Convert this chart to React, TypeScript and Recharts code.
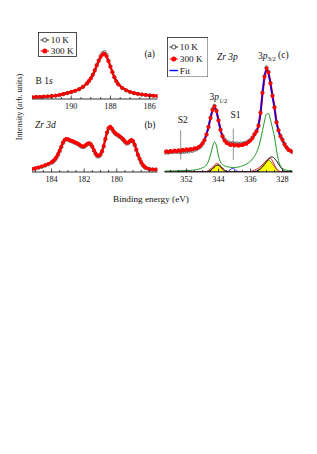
import React from 'react';
import { ComposedChart, Line, Area, XAxis, YAxis, ReferenceLine, Legend } from 'recharts';

const SERIF = '"Liberation Serif", "Times New Roman", serif';

// ---------- panel (a): B 1s ----------
const b1sEnergy = [192.0, 191.8, 191.6, 191.4, 191.2, 191.0, 190.8, 190.6, 190.4, 190.2, 190.0, 189.8, 189.6, 189.4, 189.2, 189.1, 189.0, 188.9, 188.8, 188.7, 188.6, 188.5, 188.4, 188.3, 188.2, 188.1, 188.0, 187.9, 187.8, 187.7, 187.6, 187.4, 187.2, 187.0, 186.8, 186.6, 186.4, 186.2, 186.0, 185.8, 185.6];
const b1s300K = [1.8, 2.0, 2.2, 2.4, 2.7, 3.0, 3.4, 4.1, 5.0, 6.0, 7.0, 8.3, 9.8, 12.3, 15.6, 18.0, 20.7, 24.2, 28.5, 33.5, 38.0, 42.0, 44.5, 45.3, 42.8, 37.8, 32.3, 26.8, 21.8, 17.8, 14.8, 11.2, 8.8, 7.2, 6.0, 5.2, 4.6, 4.1, 3.7, 3.3, 3.0];
const b1s10K = [1.5, 1.9, 2.0, 2.3, 2.5, 2.9, 3.2, 3.9, 4.8, 5.8, 6.8, 8.0, 9.6, 12.0, 15.4, 17.8, 20.6, 24.3, 28.8, 34.0, 38.8, 43.2, 45.9, 46.8, 44.0, 38.5, 32.6, 26.9, 21.7, 17.6, 14.5, 10.9, 8.5, 6.9, 5.8, 5.0, 4.4, 3.9, 3.5, 3.1, 2.8];
const b1sTicks = [186, 186.5, 187, 187.5, 188, 188.5, 189, 189.5, 190, 190.5, 191, 191.5];
const b1sTickLabels = [186, 188, 190];

// ---------- panel (b): Zr 3d ----------
const zr3dEnergy = [185.2, 185.0, 184.8, 184.6, 184.4, 184.2, 184.0, 183.9, 183.8, 183.7, 183.6, 183.5, 183.4, 183.3, 183.2, 183.1, 183.0, 182.9, 182.8, 182.7, 182.6, 182.5, 182.4, 182.3, 182.2, 182.1, 182.0, 181.9, 181.8, 181.7, 181.6, 181.5, 181.4, 181.3, 181.2, 181.1, 181.0, 180.9, 180.8, 180.7, 180.6, 180.5, 180.4, 180.3, 180.2, 180.1, 180.0, 179.9, 179.8, 179.7, 179.6, 179.5, 179.4, 179.3, 179.2, 179.1, 179.0, 178.9, 178.8, 178.7, 178.6, 178.5, 178.4, 178.3, 178.2, 178.0, 177.8, 177.6];
const zr3d300K = [2.0, 2.8, 3.6, 4.6, 5.8, 7.2, 8.8, 10.0, 11.8, 14.0, 17.0, 20.5, 24.5, 28.5, 31.0, 32.0, 31.8, 31.0, 30.3, 29.8, 29.0, 28.3, 27.6, 26.6, 25.4, 24.6, 24.8, 26.0, 27.3, 27.8, 27.0, 24.5, 21.0, 17.8, 15.6, 15.3, 16.8, 20.0, 25.0, 32.0, 38.5, 43.0, 44.3, 42.5, 40.0, 38.0, 36.8, 35.8, 34.6, 33.3, 31.8, 29.8, 28.2, 28.5, 30.0, 31.0, 30.0, 26.5, 21.5, 16.5, 12.5, 9.0, 6.3, 4.5, 3.2, 2.0, 1.6, 1.5];
const zr3d10K = [1.6, 2.4, 3.2, 4.1, 5.3, 6.6, 8.2, 9.4, 11.0, 13.2, 16.0, 19.5, 23.6, 27.8, 30.6, 31.8, 31.5, 30.6, 29.8, 29.4, 28.6, 27.8, 27.0, 26.0, 24.8, 24.0, 24.2, 25.5, 26.8, 27.4, 26.6, 24.0, 20.2, 16.9, 14.8, 14.6, 16.0, 19.2, 24.4, 31.5, 38.2, 42.8, 44.0, 42.0, 39.4, 37.4, 36.2, 35.2, 34.0, 32.6, 31.0, 29.0, 27.4, 27.8, 29.4, 30.4, 29.2, 25.6, 20.6, 15.6, 11.6, 8.2, 5.6, 3.9, 2.8, 1.7, 1.4, 1.3];
const zr3dTicks = [178, 178.5, 179, 179.5, 180, 180.5, 181, 181.5, 182, 182.5, 183, 183.5, 184, 184.5, 185];
const zr3dTickLabels = [180, 182, 184];

// ---------- panel (c): Zr 3p ----------
const zr3pEnergy = [357.5, 357.0, 356.5, 356.0, 355.5, 355.0, 354.5, 354.0, 353.5, 353.0, 352.5, 352.0, 351.5, 351.0, 350.5, 350.0, 349.5, 349.0, 348.5, 348.0, 347.5, 347.0, 346.5, 346.0, 345.5, 345.0, 344.5, 344.0, 343.5, 343.0, 342.5, 342.0, 341.5, 341.0, 340.5, 340.0, 339.5, 339.0, 338.5, 338.0, 337.5, 337.0, 336.5, 336.0, 335.5, 335.0, 334.5, 334.0, 333.5, 333.0, 332.5, 332.0, 331.5, 331.0, 330.5, 330.0, 329.5, 329.0, 328.5, 328.0, 327.5, 327.0, 326.5, 326.0, 325.5];
const zr3p300K = [
  20.0, 20.8, 19.9, 21.0, 20.4, 21.5, 20.6, 21.8, 21.0, 22.4,
  21.6, 22.8, 22.0, 23.2, 22.6, 23.8, 23.6, 25.0, 26.2, 28.8,
  32.0, 37.5, 45.0, 54.0, 62.0, 65.5, 61.0, 51.5, 42.0, 35.5,
  31.5, 29.0, 28.2, 26.8, 27.6, 26.4, 27.2, 26.2, 27.0, 26.8,
  28.0, 28.2, 30.0, 31.4, 34.0, 37.5, 40.5, 46.0, 59.0, 79.0,
  95.0, 103.5, 99.5, 88.5, 76.0, 64.5, 49.5, 41.5, 35.5, 32.0,
  27.5, 24.5, 22.0, 21.3, 20.0];
const zr3p10K = [
  19.2, 19.8, 19.5, 20.3, 19.9, 20.6, 20.1, 20.5, 19.8, 20.4,
  20.2, 20.9, 20.5, 21.6, 21.2, 22.4, 22.8, 24.2, 25.6, 28.2,
  31.6, 37.4, 45.2, 54.5, 62.8, 66.2, 61.5, 51.8, 42.5, 36.2,
  32.6, 30.2, 29.6, 28.4, 28.9, 28.0, 28.6, 27.8, 28.4, 28.2,
  29.0, 29.2, 30.8, 32.0, 34.6, 38.0, 41.0, 46.8, 59.5, 79.5,
  96.0, 104.5, 100.2, 89.0, 76.5, 64.8, 50.0, 41.8, 36.2, 32.6,
  28.2, 24.8, 22.4, 21.0, 20.2];
const zr3pFit = [
  20.3, 20.5, 20.6, 20.8, 21.0, 21.1, 21.3, 21.5, 21.7, 21.9,
  22.1, 22.3, 22.5, 22.7, 23.0, 23.3, 23.8, 24.6, 26.0, 28.5,
  32.2, 37.8, 45.2, 54.0, 61.8, 65.0, 60.8, 51.5, 42.2, 35.6,
  31.6, 29.2, 27.9, 27.3, 27.0, 26.8, 26.7, 26.7, 26.9, 27.2,
  27.7, 28.5, 29.7, 31.4, 33.8, 37.2, 40.8, 46.5, 58.5, 78.5,
  95.0, 103.0, 99.0, 88.0, 76.0, 64.0, 50.0, 41.0, 35.2, 31.8,
  27.8, 24.5, 22.3, 21.0, 20.3];
const zr3pMain = [
  1.0, 1.0, 1.0, 1.1, 1.1, 1.1, 1.2, 1.2, 1.3, 1.3,
  1.4, 1.5, 1.6, 1.7, 1.9, 2.1, 2.4, 2.8, 3.4, 4.3,
  5.2, 7.0, 11.0, 17.0, 25.0, 30.0, 26.0, 16.0, 10.0, 7.5,
  6.2, 5.4, 5.0, 4.7, 4.5, 4.5, 4.6, 5.0, 5.5, 6.2,
  7.0, 8.0, 9.2, 10.8, 13.0, 15.8, 19.5, 24.5, 32.0, 41.5,
  51.0, 58.0, 58.5, 52.0, 44.0, 35.0, 22.0, 11.5, 6.0, 3.7,
  2.5, 1.8, 1.4, 1.2, 1.1];
const zr3pBlackComp = [
  0, 0, 0, 0, 0, 0, 0, 0, 0, 0,
  0, 0, 0, 0, 0, 0, 0, 0, 0, 0,
  0, 0, 0.5, 1.5, 3.0, 5.0, 6.5, 7.0, 6.0, 4.0,
  2.0, 0.8, 0.2, 0, 0, 0, 0, 0, 0, 0,
  0, 0, 0, 0, 0, 0.5, 1.0, 2.0, 3.2, 5.0,
  7.5, 10.0, 12.8, 15.0, 15.0, 13.5, 11.0, 8.0, 5.0, 2.5,
  1.0, 0.4, 0, 0, 0];
const zr3pRedComp = [
  0, 0, 0, 0, 0, 0, 0, 0, 0, 0,
  0, 0, 0, 0, 0, 0, 0, 0, 0, 0,
  0, 0.5, 1.5, 3.0, 5.0, 7.0, 8.5, 8.0, 5.5, 3.0,
  1.2, 0.3, 0, 0, 0, 0, 0, 0, 0, 0,
  0, 0, 0, 0.5, 1.0, 1.8, 2.8, 4.0, 5.5, 7.3,
  9.3, 11.5, 13.3, 13.5, 11.0, 7.0, 3.5, 1.3, 0.4, 0,
  0, 0, 0, 0, 0];
const zr3pYellowComp = [
  0, 0, 0, 0, 0, 0, 0, 0, 0, 0,
  0, 0, 0, 0, 0, 0, 0, 0, 0, 0,
  0, 0, 0.5, 2.0, 3.5, 5.5, 7.0, 6.5, 4.5, 2.5,
  0.8, 0, 0, 0, 0, 0, 0, 0, 0, 0,
  0, 0, 0, 0, 0, 0, 0.5, 2.0, 4.0, 6.5,
  9.0, 11.5, 12.0, 10.5, 8.0, 5.0, 2.5, 1.0, 0.2, 0,
  0, 0, 0, 0, 0];
const zr3pBlueComp = [
  0, 0, 0, 0, 0, 0, 0.1, 0.3, 0.7, 1.1,
  1.5, 1.7, 1.5, 1.0, 0.5, 0.2, 0, 0, 0, 0,
  0, 0, 0, 0, 0, 0, 0, 0, 0, 0,
  0, 0.2, 1.0, 2.5, 3.5, 2.8, 1.2, 0.3, 0, 0,
  0, 0, 0, 0, 0, 0, 0, 0, 0, 0,
  0, 0, 0, 0, 0, 0, 0, 0, 0, 0,
  0, 0, 0, 0, 0];
const zr3pTicks = [326, 328, 330, 332, 334, 336, 338, 340, 342, 344, 346, 348, 350, 352, 354, 356];
const zr3pTickLabels = [328, 336, 344, 352];
const satelliteS2 = 353.45;
const satelliteS1 = 340.3;

const legendLabelsA = ['10 K', '300 K'];
const legendLabelsC = ['10 K', '300 K', 'Fit'];

type Row = Record<string, number>;
function buildRows(energy: number[], series: Record<string, number[]>): Row[] {
  return energy.map((e, i) => {
    const row: Row = { e };
    Object.keys(series).forEach((k) => {
      row[k] = series[k][i];
    });
    return row;
  });
}

const rowsA = buildRows(b1sEnergy, { t10: b1s10K, t300: b1s300K });
const rowsB = buildRows(zr3dEnergy, { t10: zr3d10K, t300: zr3d300K });
const rowsC = buildRows(zr3pEnergy, {
  t10: zr3p10K,
  t300: zr3p300K,
  fit: zr3pFit,
  main: zr3pMain,
  black: zr3pBlackComp,
  red: zr3pRedComp,
  yellow: zr3pYellowComp,
  blue: zr3pBlueComp,
});

function makeTick(labels: number[]) {
  return function Tick(props: any) {
    const { x, y, payload } = props;
    const v = payload.value;
    const major = labels.indexOf(v) >= 0;
    return (
      <g>
        <line x1={x} x2={x} y1={y} y2={y - (major ? 3.5 : 2)} stroke="#000" strokeWidth={0.7} />
        {major ? (
          <text x={x} y={y + 9.6} textAnchor="middle" fontFamily={SERIF} fontSize={8.2} fill="#111">
            {v}
          </text>
        ) : null}
      </g>
    );
  };
}

function frameAxes(xDomain: [number, number], yDomain: [number, number], ticks: number[], labels: number[]) {
  const axisLine = { stroke: '#000', strokeWidth: 0.8 };
  return [
    <XAxis key="xb" dataKey="e" type="number" domain={xDomain} reversed allowDataOverflow ticks={ticks} interval={0}
      tick={makeTick(labels)} tickLine={false} tickSize={0} tickMargin={0} height={16} axisLine={axisLine} />,
    <XAxis key="xt" xAxisId="top" orientation="top" dataKey="e" type="number" domain={xDomain} reversed allowDataOverflow
      height={0} tick={false} tickLine={false} axisLine={axisLine} />,
    <YAxis key="yl" type="number" domain={yDomain} allowDataOverflow width={0} tick={false} tickLine={false} axisLine={axisLine} />,
    <YAxis key="yr" yAxisId="right" orientation="right" type="number" domain={yDomain} allowDataOverflow width={0}
      tick={false} tickLine={false} axisLine={axisLine} />,
  ];
}

function LegendBox({ width, height, labels, rowY, withFit }: { width: number; height: number; labels: string[]; rowY: number[]; withFit: boolean }) {
  return (
    <svg width={width} height={height} style={{ display: 'block' }}>
      <rect x={0.5} y={0.5} width={width - 1} height={height - 1} fill="#fff" stroke="#222" strokeWidth={0.8} />
      {labels.map((lab, i) => {
        const y = rowY[i];
        const isFit = withFit && i === 2;
        const color = i === 0 ? '#222' : i === 1 ? '#ff0000' : '#0000ff';
        return (
          <g key={lab}>
            <line x1={2.5} x2={11} y1={y} y2={y} stroke={color} strokeWidth={isFit ? 1.4 : 1} />
            {i === 0 ? <circle cx={6.8} cy={y} r={2.1} fill="#fff" stroke="#222" strokeWidth={0.8} /> : null}
            {i === 1 ? <circle cx={6.8} cy={y} r={2.5} fill="#ff0000" /> : null}
            <text x={12.8} y={y + 3.2} fontFamily={SERIF} fontSize={9.2} fill="#111">
              {lab}
            </text>
          </g>
        );
      })}
    </svg>
  );
}

const redDot = { r: 1.9, fill: '#ff0000', stroke: 'none' };
const openDot = { r: 1.7, fill: 'none', stroke: '#333', strokeWidth: 0.6 };

export default function App() {
  return (
    <div style={{ position: 'fixed', left: 0, top: 0, width: 317, height: 454, background: '#fff', overflow: 'hidden' }}>
      {/* panel (a) */}
      <div style={{ position: 'absolute', left: 0, top: 0 }}>
        <ComposedChart width={170} height={115} data={rowsA} margin={{ top: 45, right: 12.5, bottom: 0, left: 32 }}>
          {frameAxes([185.6, 192.0], [0, 54], b1sTicks, b1sTickLabels)}
          <Line dataKey="t10" name="10 K" type="linear" stroke="#333" strokeWidth={0.6} dot={openDot} activeDot={false} isAnimationActive={false} />
          <Line dataKey="t300" name="300 K" type="linear" stroke="#ff0000" strokeWidth={2.4} dot={redDot} activeDot={false} isAnimationActive={false} />
          <Legend layout="vertical" align="center" verticalAlign="middle"
            wrapperStyle={{ left: 37.5, top: 32, width: 39, height: 25 }}
            content={() => <LegendBox width={39} height={25} labels={legendLabelsA} rowY={[8, 19]} withFit={false} />} />
        </ComposedChart>
      </div>
      {/* panel (b) */}
      <div style={{ position: 'absolute', left: 0, top: 100 }}>
        <ComposedChart width={170} height={90} data={rowsB} margin={{ top: 19.5, right: 12.5, bottom: 2, left: 32 }}>
          {frameAxes([177.5, 185.2], [-1, 51.5], zr3dTicks, zr3dTickLabels)}
          <Line dataKey="t10" name="10 K" type="linear" stroke="#333" strokeWidth={0.6} dot={openDot} activeDot={false} isAnimationActive={false} />
          <Line dataKey="t300" name="300 K" type="linear" stroke="#ff0000" strokeWidth={2.4} dot={redDot} activeDot={false} isAnimationActive={false} />
        </ComposedChart>
      </div>
      {/* panel (c) */}
      <div style={{ position: 'absolute', left: 150, top: 0 }}>
        <ComposedChart width={160} height={200} data={rowsC} margin={{ top: 45, right: 17.5, bottom: 12, left: 14.5 }}>
          {frameAxes([325.5, 357.5], [0, 127], zr3pTicks, zr3pTickLabels)}
          <Area dataKey="yellow" type="monotone" baseValue={0} fill="#ffff00" fillOpacity={1} stroke="#3a3a00" strokeWidth={0.6} dot={false} activeDot={false} isAnimationActive={false} />
          <Line dataKey="blue" type="monotone" stroke="#1a1aff" strokeWidth={1} dot={false} activeDot={false} isAnimationActive={false} />
          <Line dataKey="red" type="monotone" stroke="#e00000" strokeWidth={0.9} dot={false} activeDot={false} isAnimationActive={false} />
          <Line dataKey="black" type="monotone" stroke="#000" strokeWidth={0.9} dot={false} activeDot={false} isAnimationActive={false} />
          <Line dataKey="main" type="monotone" stroke="#1e961e" strokeWidth={1} dot={false} activeDot={false} isAnimationActive={false} />
          <Line dataKey="t10" name="10 K" type="linear" stroke="#555" strokeWidth={0.5} dot={openDot} activeDot={false} isAnimationActive={false} />
          <Line dataKey="t300" name="300 K" type="linear" stroke="#ff0000" strokeWidth={2.2} dot={redDot} activeDot={false} isAnimationActive={false} />
          <Line dataKey="fit" name="Fit" type="monotone" stroke="#0000ff" strokeWidth={1.4} dot={false} activeDot={false} isAnimationActive={false} />
          <ReferenceLine segment={[{ x: satelliteS2, y: 12.5 }, { x: satelliteS2, y: 42 }]} stroke="#777" strokeWidth={0.8} />
          <ReferenceLine segment={[{ x: satelliteS1, y: 12 }, { x: satelliteS1, y: 43.5 }]} stroke="#777" strokeWidth={0.8} />
          <Legend layout="vertical" align="center" verticalAlign="middle"
            wrapperStyle={{ left: 16.5, top: 36.5, width: 41.5, height: 40.5 }}
            content={() => <LegendBox width={41.5} height={40.5} labels={legendLabelsC} rowY={[10, 22, 33.5]} withFit={true} />} />
        </ComposedChart>
      </div>
      {/* annotations */}
      <svg width={317} height={454} style={{ position: 'absolute', left: 0, top: 0, pointerEvents: 'none' }}>
        <g fontFamily={SERIF} fill="#111">
          <text x={155} y={57.3} fontSize={9.5} textAnchor="end">(a)</text>
          <text x={35.5} y={84.2} fontSize={9.5}>
            B 1<tspan fontStyle="italic">s</tspan>
          </text>
          <text x={35} y={128} fontSize={9.5} fontStyle="italic">Zr 3d</text>
          <text x={155.5} y={127.5} fontSize={9.5} textAnchor="end">(b)</text>
          <text x={217} y={60} fontSize={9.5} fontStyle="italic">Zr 3p</text>
          <text x={258} y={58.5} fontSize={9.5}>
            3<tspan fontStyle="italic">p</tspan>
            <tspan fontSize={6.5} dy={2.5}>3/2</tspan>
          </text>
          <text x={278} y={57.5} fontSize={9.5}>(c)</text>
          <text x={209.5} y={100} fontSize={9.5}>
            3<tspan fontStyle="italic">p</tspan>
            <tspan fontSize={6.5} dy={2.5}>1/2</tspan>
          </text>
          <text x={230.5} y={118.3} fontSize={9.5}>S1</text>
          <text x={177.8} y={122.8} fontSize={9.5}>S2</text>
          <text x={151} y={202} fontSize={9.2} textAnchor="middle">Binding energy (eV)</text>
          <text x={0} y={0} fontSize={8.2} textAnchor="middle" transform="translate(21.8,107) rotate(-90)">
            Intensity (arb. units)
          </text>
        </g>
      </svg>
    </div>
  );
}
